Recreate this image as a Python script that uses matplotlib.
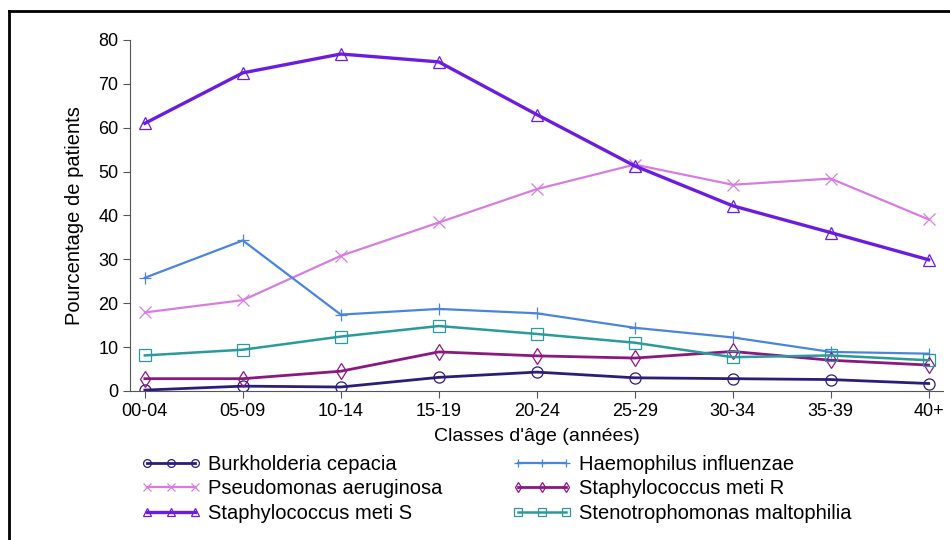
import matplotlib
matplotlib.use("Agg")
import matplotlib.pyplot as plt
from matplotlib.lines import Line2D

plt.rcParams['font.family'] = ['Liberation Sans', 'DejaVu Sans']

classes = ["00-04", "05-09", "10-14", "15-19", "20-24", "25-29", "30-34", "35-39", "40+"]

burkholderia = [0.2, 1.1, 0.9, 3.1, 4.3, 3.0, 2.8, 2.6, 1.7]
haemophilus = [25.8, 34.3, 17.4, 18.7, 17.7, 14.4, 12.2, 8.9, 8.5]
pseudomonas = [17.9, 20.7, 30.8, 38.4, 46.0, 51.6, 47.0, 48.4, 39.1]
staph_r = [2.8, 2.8, 4.5, 8.9, 8.0, 7.5, 9.0, 7.0, 5.9]
staph_s = [61.0, 72.5, 76.8, 75.0, 63.0, 51.3, 42.2, 36.1, 29.9]
steno = [8.1, 9.4, 12.4, 14.8, 13.0, 11.0, 7.7, 8.1, 7.0]

fig = plt.figure(figsize=(9.5, 5.4), dpi=100)
ax = fig.add_axes([0.137, 0.276, 0.856, 0.65])

x = list(range(len(classes)))
series = [
    ("Burkholderia cepacia", burkholderia, "#2b1d78", "o", 2.0),
    ("Pseudomonas aeruginosa", pseudomonas, "#d77de0", "x", 1.6),
    ("Staphylococcus meti S", staph_s, "#6a1de0", "^", 2.4),
    ("Haemophilus influenzae", haemophilus, "#4a85dd", "+", 1.6),
    ("Staphylococcus meti R", staph_r, "#8a1880", "d", 2.0),
    ("Stenotrophomonas maltophilia", steno, "#2a9a9c", "s", 1.8),
]
handles = []
for name, vals, col, mk, lw in series:
    h, = ax.plot(x, vals, color=col, lw=lw, marker=mk, markersize=8,
                 markerfacecolor="none", markeredgecolor=col, markeredgewidth=0.9,
                 label=name)
    handles.append(h)

ax.set_xlim(-0.15, 8.15)
ax.set_ylim(0, 80)
ax.set_yticks(range(0, 81, 10))
ax.set_xticks(x)
ax.set_xticklabels(classes)
ax.tick_params(labelsize=13, color="#555555", length=5)
ax.spines['top'].set_visible(False)
ax.spines['right'].set_visible(False)
ax.spines['left'].set_color("#555555")
ax.spines['bottom'].set_color("#555555")
ax.set_xlabel("Classes d'âge (années)", fontsize=14, labelpad=6)
ax.set_ylabel("Pourcentage de patients", fontsize=14.5, labelpad=10)

# deux colonnes de légende placées séparément
leg_kw = dict(loc="upper left", frameon=False, fontsize=14.5, numpoints=3,
              handlelength=3.0, handletextpad=0.35, labelspacing=0.27,
              borderpad=0, borderaxespad=0, markerscale=0.7)
leg1 = fig.legend(handles=handles[:3], bbox_to_anchor=(141 / 950, 0.158), **leg_kw)
leg2 = fig.legend(handles=handles[3:], bbox_to_anchor=(512 / 950, 0.158), **leg_kw)

# cadre
fig.add_artist(Line2D([9 / 950, 1.0], [1 - 11 / 540, 1 - 11 / 540], color="black", lw=2))
fig.add_artist(Line2D([9 / 950, 9 / 950], [0.0, 1 - 11 / 540], color="black", lw=2))

fig.savefig("out.png", dpi=100, facecolor="white")
